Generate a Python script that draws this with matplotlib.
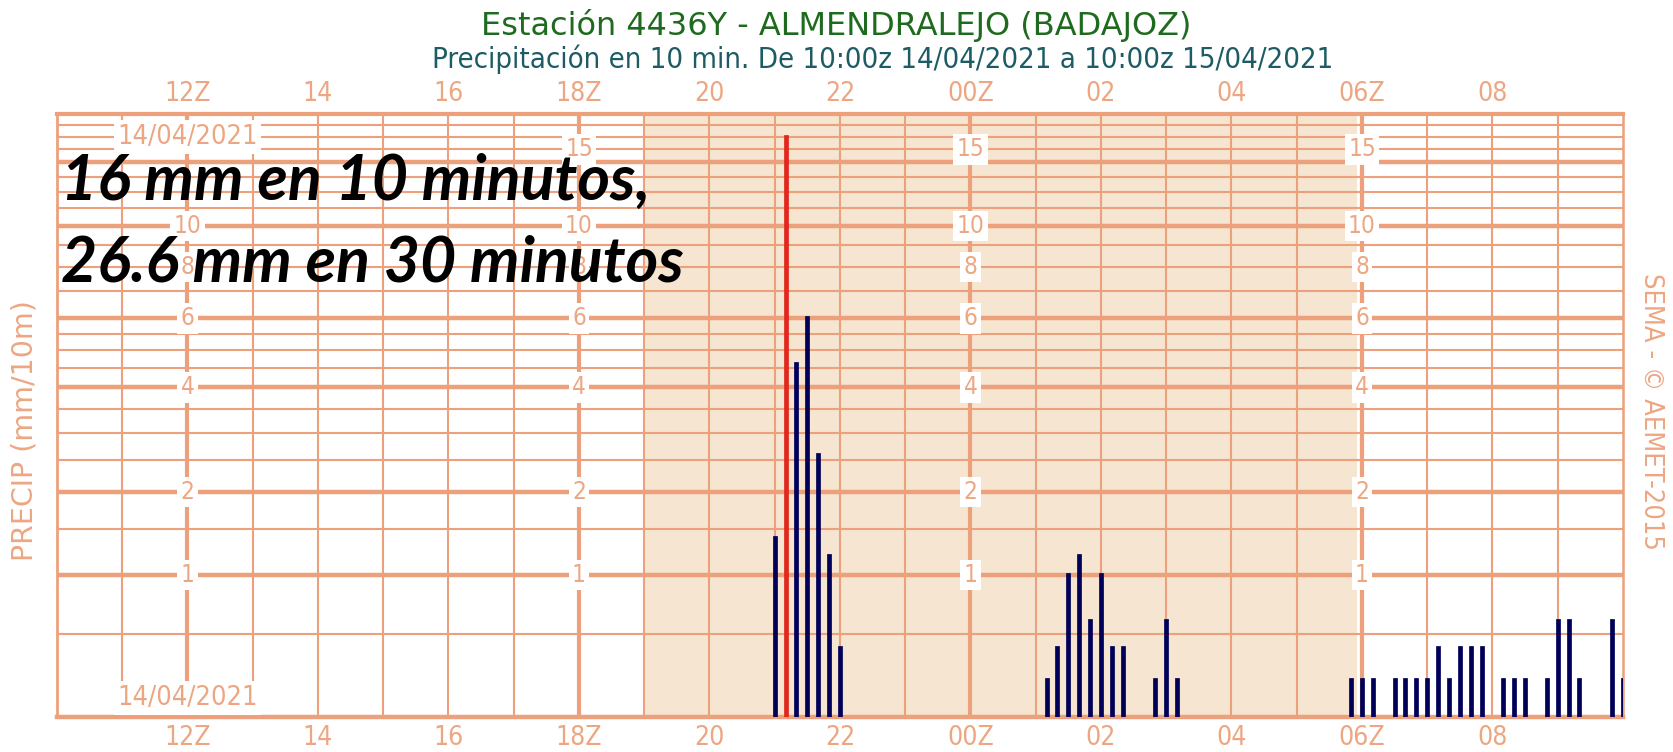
import numpy as np
import pandas as pd
import matplotlib
matplotlib.use("Agg")
import matplotlib.pyplot as plt
import matplotlib.transforms as mtransforms

# ---------------- data ----------------
start = "2021-04-14 10:00"
end = "2021-04-15 10:00"
times = ["2021-04-14 21:00", "2021-04-14 21:10", "2021-04-14 21:20", "2021-04-14 21:30",
         "2021-04-14 21:40", "2021-04-14 21:50", "2021-04-14 22:00",
         "2021-04-15 01:10", "2021-04-15 01:20", "2021-04-15 01:30", "2021-04-15 01:40",
         "2021-04-15 01:50", "2021-04-15 02:00", "2021-04-15 02:10", "2021-04-15 02:20",
         "2021-04-15 02:50", "2021-04-15 03:00", "2021-04-15 03:10",
         "2021-04-15 05:50", "2021-04-15 06:00", "2021-04-15 06:10", "2021-04-15 06:30",
         "2021-04-15 06:40", "2021-04-15 06:50", "2021-04-15 07:00", "2021-04-15 07:10",
         "2021-04-15 07:20", "2021-04-15 07:30", "2021-04-15 07:40", "2021-04-15 07:50",
         "2021-04-15 08:10", "2021-04-15 08:20", "2021-04-15 08:30", "2021-04-15 08:50",
         "2021-04-15 09:00", "2021-04-15 09:10", "2021-04-15 09:20", "2021-04-15 09:50",
         "2021-04-15 10:00"]
precip = [1.4, 16.0, 4.6, 6.0, 2.6, 1.2, 0.4,
          0.2, 0.4, 1.0, 1.2, 0.6, 1.0, 0.4, 0.4,
          0.2, 0.6, 0.2,
          0.2, 0.2, 0.2, 0.2, 0.2, 0.2, 0.2, 0.4,
          0.2, 0.4, 0.4, 0.4, 0.2, 0.2, 0.2, 0.2,
          0.6, 0.6, 0.2, 0.6, 0.2]

night_start = "2021-04-14 19:00"
night_end = "2021-04-15 05:55"

xtick_times = ["2021-04-14 12:00", "2021-04-14 14:00", "2021-04-14 16:00", "2021-04-14 18:00",
               "2021-04-14 20:00", "2021-04-14 22:00", "2021-04-15 00:00", "2021-04-15 02:00",
               "2021-04-15 04:00", "2021-04-15 06:00", "2021-04-15 08:00"]
xtick_labels = ["12Z", "14", "16", "18Z", "20", "22", "00Z", "02", "04", "06Z", "08"]
main_hours = ["2021-04-14 12:00", "2021-04-14 18:00", "2021-04-15 00:00", "2021-04-15 06:00"]

ylabel_levels = [1, 2, 4, 6, 8, 10, 15]
thick_levels = [1, 2, 4, 6, 10, 14]
thin_levels = [0.5, 1.5, 2.5, 3, 3.5, 4.5, 5, 5.5, 7, 8, 9, 11, 12, 13, 15, 16, 17]
ymax = 18

title1 = "Estación 4436Y - ALMENDRALEJO (BADAJOZ)"
title2 = "Precipitación en 10 min. De 10:00z 14/04/2021 a 10:00z 15/04/2021"
date_label = "14/04/2021"
note1 = "16 mm en 10 minutos,"
note2 = "26.6 mm en 30 minutos"

# ---------------- helpers ----------------
t0 = pd.Timestamp(start)
def hrs(s):
    return (pd.Timestamp(s) - t0).total_seconds() / 3600.0

x = np.array([hrs(t) for t in times])
v = np.array(precip)
xt = [hrs(t) for t in xtick_times]
xmain = [hrs(t) for t in main_hours]
xend = hrs(end)

GRID = "#eca07b"
LABC = "#eda682"
SHADE = "#f5e5d1"
NAVY = "#000058"
RED = "#e0281c"
COND = dict(family="DejaVu Sans", stretch="condensed")
REG = dict(family="DejaVu Sans")

fig = plt.figure(figsize=(16.74, 7.52), dpi=100)
W, H = 1674, 752
L, R, T, B = 57, 1623, 114, 717
ax = fig.add_axes([L / W, 1 - B / H, (R - L) / W, (B - T) / H])

fwd = lambda y: np.log1p(np.clip(y, 0, None))
inv = lambda y: np.expm1(y)
ax.set_yscale("function", functions=(fwd, inv))
ax.set_ylim(0, ymax)
ax.set_xlim(0, xend)
ax.set_xticks([])
ax.set_yticks([])
ax.minorticks_off()
for s in ax.spines.values():
    s.set_color(GRID)
ax.spines["top"].set_linewidth(3)
ax.spines["bottom"].set_linewidth(3.2)
ax.spines["left"].set_linewidth(2)
ax.spines["right"].set_linewidth(1.8)

# night shading
ax.axvspan(hrs(night_start), hrs(night_end), color=SHADE, lw=0, zorder=0)

# grid
for h in range(1, int(xend)):
    ax.axvline(h, color=GRID, lw=3 if h in xmain else 1.5, zorder=1)
for lv in thin_levels:
    ax.axhline(lv, color=GRID, lw=1.5, zorder=1)
for lv in thick_levels:
    ax.axhline(lv, color=GRID, lw=3.2, zorder=1)

# y labels in columns (the 15 of the first column lies under the date box)
for j, xc in enumerate(xmain):
    for lv in ylabel_levels:
        if j == 0 and lv == 15:
            continue
        ax.text(xc, lv, str(lv), ha="center", va="center", color=LABC, fontsize=17.5, zorder=4,
                bbox=dict(facecolor="white", edgecolor="none", pad=2.5), **COND)

# date labels
blend = mtransforms.blended_transform_factory(ax.transData, ax.transAxes)
for yy in [(B - 137) / (B - T), (B - 698) / (B - T)]:
    ax.text(xmain[0], yy, date_label, transform=blend, ha="center", va="center", color=LABC,
            fontsize=19.5, zorder=5, bbox=dict(facecolor="white", edgecolor="none", pad=2.5), **COND)

# x labels top and bottom
for xx, lab in zip(xt, xtick_labels):
    ax.text(xx, (B - 94) / (B - T), lab, transform=blend, ha="center", va="center", color=LABC,
            fontsize=19, clip_on=False, **COND)
    ax.text(xx, (B - 738) / (B - T), lab, transform=blend, ha="center", va="center", color=LABC,
            fontsize=19, clip_on=False, zorder=6,
            bbox=dict(facecolor="white", edgecolor="none", pad=2.5), **COND)

# bars
imax = int(np.argmax(v))
colors = [RED if i == imax else NAVY for i in range(len(v))]
ax.vlines(x, 0, v, colors=colors, linewidths=3.4, zorder=3, capstyle="projecting")

# titles
fig.text(836 / W, 1 - 25 / H, title1, ha="center", va="center", color="#1e6a1e", fontsize=23, **REG)
fig.text(883 / W, 1 - 59 / H, title2, ha="center", va="center", color="#1d5c64", fontsize=21, **COND)

# axis side texts
fig.text(25 / W, 1 - 431 / H, "PRECIP (mm/10m)", rotation=90, ha="center", va="center",
         color=LABC, fontsize=20.5, **REG)
fig.text(1651 / W, 1 - 411 / H, "SEMA - © AEMET-2015", rotation=270, ha="center", va="center",
         color=LABC, fontsize=19.5, **COND)

# annotation
fig.text(61 / W, 1 - 200 / H, note1, ha="left", va="baseline", fontsize=45, fontweight="bold",
         fontstyle="italic", family="Lato", color="black", zorder=10)
fig.text(61 / W, 1 - 282 / H, note2, ha="left", va="baseline", fontsize=45, fontweight="bold",
         fontstyle="italic", family="Lato", color="black", zorder=10)

fig.savefig("out.png", dpi=100)
